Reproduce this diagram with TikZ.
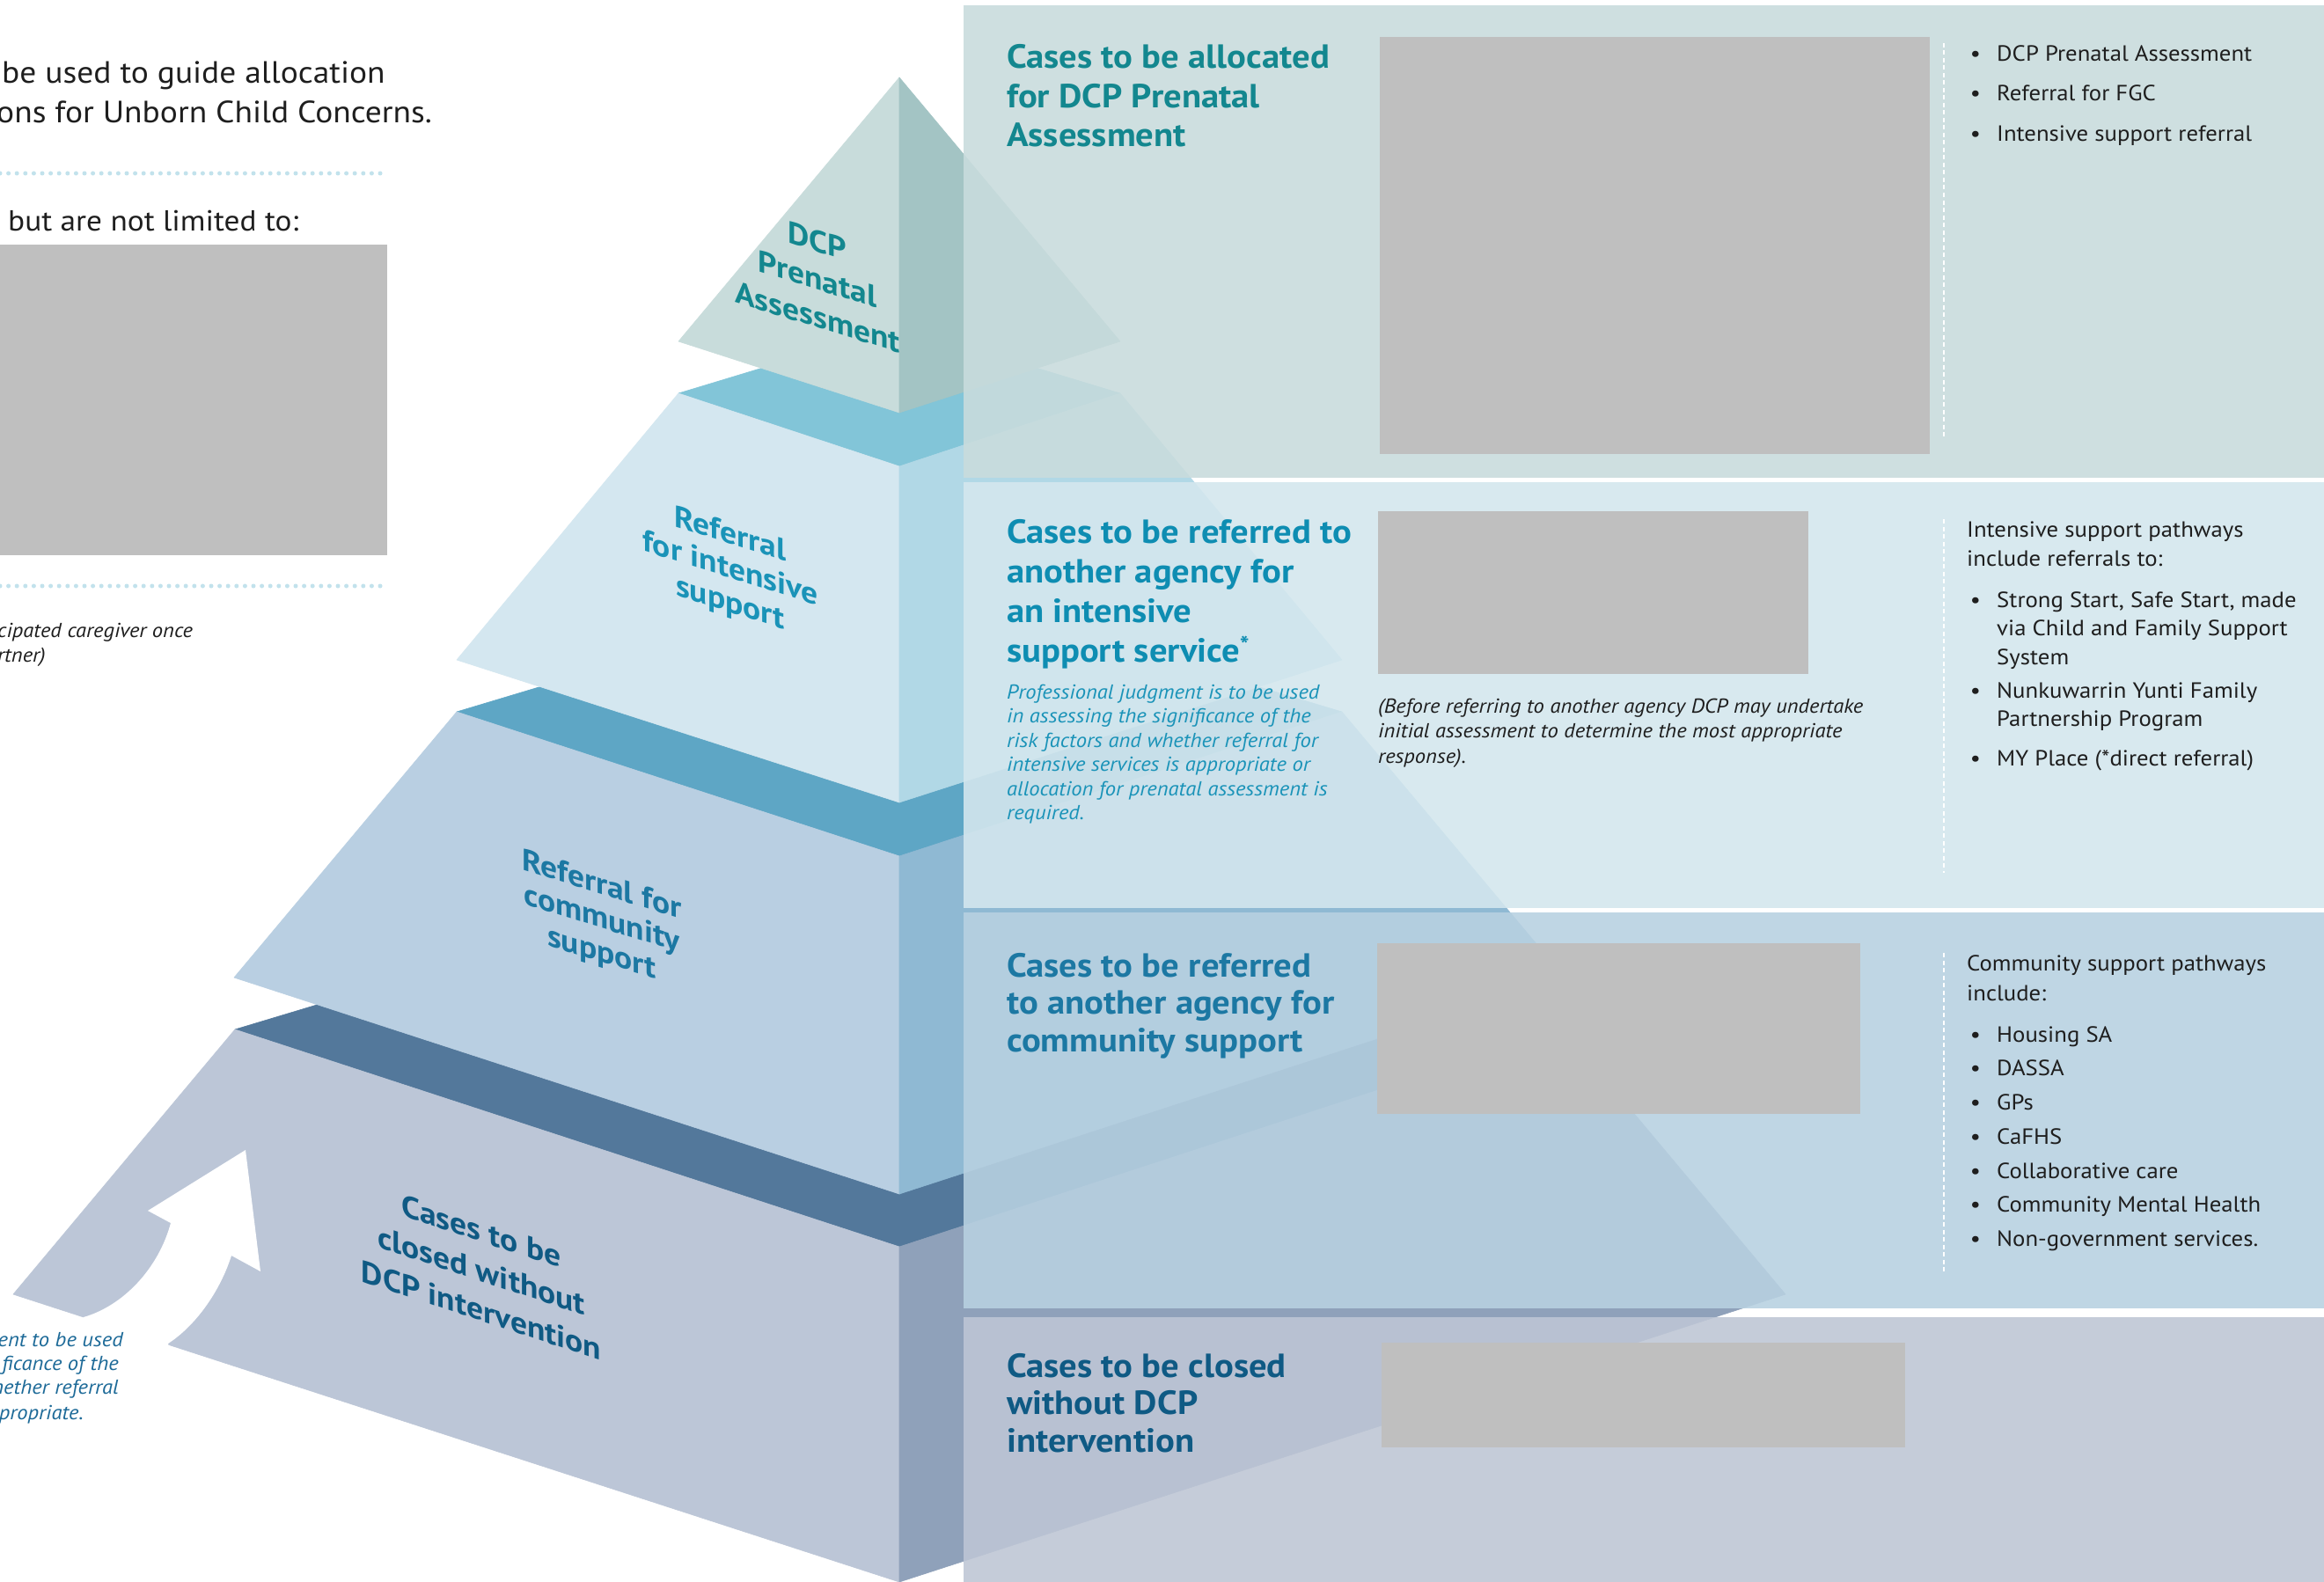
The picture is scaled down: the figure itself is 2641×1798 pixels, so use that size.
\documentclass[tikz,border=0pt]{standalone}
\usepackage{fontspec}
\setmainfont{PT Sans}[FakeStretch=1.07]
% face colours of the stepped pyramid
\definecolor{tAl}{HTML}{C8DCDB}
\definecolor{tAr}{HTML}{A3C4C4}
\definecolor{tBt}{HTML}{82C5D8}
\definecolor{tBl}{HTML}{D4E7F0}
\definecolor{tBr}{HTML}{B1D8E6}
\definecolor{tCt}{HTML}{5EA6C5}
\definecolor{tCl}{HTML}{B9CFE2}
\definecolor{tCr}{HTML}{8FB9D3}
\definecolor{tDt}{HTML}{53789B}
\definecolor{tDl}{HTML}{BCC6D7}
\definecolor{tDr}{HTML}{8FA1BA}
% panel colours
\definecolor{pA}{HTML}{C9DCDD}
\definecolor{pB}{HTML}{D4E7EE}
\definecolor{pC}{HTML}{B8D1E1}
\definecolor{pD}{HTML}{BEC6D5}
\definecolor{greybox}{HTML}{BFBFBF}
\definecolor{ink}{HTML}{1E1E1E}
\definecolor{dotc}{HTML}{C2E2EC}
% text colours
\definecolor{cA}{HTML}{13878F}
\definecolor{cB}{HTML}{0E8DB2}
\definecolor{cC}{HTML}{1C78A3}
\definecolor{cD}{HTML}{0F5A84}
\definecolor{cBi}{HTML}{1A93B8}
\definecolor{cDi}{HTML}{1D6A98}
\begin{document}
\begin{tikzpicture}[x=1pt,y=-1pt,
  pface/.style={fill=#1,draw=#1,line width=0.6pt,line join=round},
  pnl/.style={fill=#1,fill opacity=0.89},
  lbl/.style={font=\bfseries\fontsize{35}{40}\selectfont,align=center,yslant=-0.31,inner sep=0},
  ptitle/.style={font=\bfseries\fontsize{38}{44.5}\selectfont,align=left,anchor=base west,inner sep=0},
  smalltxt/.style={font=\fontsize{25}{33}\selectfont,text=ink,align=left,anchor=base west,inner sep=0},
  ital/.style={font=\itshape\fontsize{23}{27.5}\selectfont,align=left,anchor=base west,inner sep=0},
  bul/.style={font=\fontsize{25}{33}\selectfont,text=ink,anchor=base,inner sep=0},
  head/.style={font=\fontsize{35}{45}\selectfont,text=ink,anchor=base west,inner sep=0},
  vdash/.style={draw=white,line width=1.6pt,dash pattern=on 5pt off 3.5pt},
  dotline/.style={draw=dotc,line width=5pt,line cap=round,dash pattern=on 0pt off 9.6pt}
]
\useasboundingbox (0,0) rectangle (2641,1798);
\fill[white] (0,0) rectangle (2641,1798);

% ---------- pyramid corner points ----------
\coordinate (Apex) at (1022,88);
\coordinate (Al) at (771,388);  \coordinate (Af) at (1022,469); \coordinate (Ar) at (1273,388);
\coordinate (Btl) at (771,447); \coordinate (Btf) at (1022,530); \coordinate (Btr) at (1273,447); \coordinate (Btb) at (1022,371);
\coordinate (Bbl) at (519,750); \coordinate (Bbf) at (1022,912); \coordinate (Bbr) at (1525,750);
\coordinate (Ctl) at (519,809); \coordinate (Ctf) at (1022,973); \coordinate (Ctr) at (1525,809); \coordinate (Ctb) at (1022,658);
\coordinate (Cbl) at (266,1111); \coordinate (Cbf) at (1022,1357); \coordinate (Cbr) at (1778,1111);
\coordinate (Dtl) at (267,1170); \coordinate (Dtf) at (1022,1417); \coordinate (Dtr) at (1777,1170); \coordinate (Dtb) at (1022,943);
\coordinate (Dbl) at (15,1471); \coordinate (Dbf) at (1022,1798); \coordinate (Dbr) at (2029,1471);

% bottom tier
\filldraw[pface=tDt] (Dtl) -- (Dtb) -- (Dtr) -- (Dtf) -- cycle;
\filldraw[pface=tDl] (Dtl) -- (Dtf) -- (Dbf) -- (Dbl) -- cycle;
\filldraw[pface=tDr] (Dtf) -- (Dtr) -- (Dbr) -- (Dbf) -- cycle;
% white arrow cut into the bottom tier
\coordinate (ArT) at (279,1307);
\coordinate (ArHL) at (168,1376);
\coordinate (ArHR) at (296,1445);
\coordinate (ArSLi) at (194,1390);
\coordinate (ArSRi) at (263,1427);
\coordinate (ArSLe) at (95,1497);
\coordinate (ArSRe) at (191,1527);
\coordinate (ArXR) at (193,1534);
\coordinate (ArXL) at (92,1503);
\fill[white] (ArSLe) .. controls (140,1484) and (180,1442) .. (ArSLi) -- (ArHL) -- (ArT) -- (ArHR) -- (ArSRi)
  .. controls (250,1468) and (222,1507) .. (ArSRe) -- (ArXR) -- (ArXL) -- cycle;

% third tier
\filldraw[pface=tCt] (Ctl) -- (Ctb) -- (Ctr) -- (Ctf) -- cycle;
\filldraw[pface=tCl] (Ctl) -- (Ctf) -- (Cbf) -- (Cbl) -- cycle;
\filldraw[pface=tCr] (Ctf) -- (Ctr) -- (Cbr) -- (Cbf) -- cycle;
% second tier
\filldraw[pface=tBt] (Btl) -- (Btb) -- (Btr) -- (Btf) -- cycle;
\filldraw[pface=tBl] (Btl) -- (Btf) -- (Bbf) -- (Bbl) -- cycle;
\filldraw[pface=tBr] (Btf) -- (Btr) -- (Bbr) -- (Bbf) -- cycle;
% top
\filldraw[pface=tAl] (Apex) -- (Af) -- (Al) -- cycle;
\filldraw[pface=tAr] (Apex) -- (Ar) -- (Af) -- cycle;

% tier labels, sheared onto the front faces
\node[lbl,text=cA,font=\bfseries\fontsize{35}{43}\selectfont] (lblA) at (929,317) {DCP\\Prenatal\\Assessment};
\node[lbl,text=cBi,font=\bfseries\fontsize{35}{39}\selectfont] (lblB) at (830,648) {Referral\\for intensive\\support};
\node[lbl,text=cC,font=\bfseries\fontsize{35}{38.5}\selectfont] (lblC) at (684,1046) {Referral for\\community\\support};
\node[lbl,text=cD,yslant=-0.02,font=\bfseries\fontsize{35}{45}\selectfont] (lblD) at (547,1444) {Cases to be\\closed without\\DCP intervention};

% ---------- left column ----------
\node[head] (hdA) at (2,95) {be used to guide allocation};
\node[head] (hdB) at (-4,140) {ons for Unborn Child Concerns.};
\draw[dotline] (0,197) -- (432,197);
\node[head,font=\fontsize{33}{45}\selectfont] (hdC) at (9,262) {but are not limited to:};
\fill[greybox] (0,278) rectangle (440,631);
\draw[dotline] (0,666) -- (432,666);
\node[ital,text=ink] (noteA) at (-3,724) {cipated caregiver once};
\node[ital,text=ink] (noteB) at (-3,752) {rtner)};
\node[ital,text=cDi,anchor=base east] (jA) at (140,1530) {ent to be used};
\node[ital,text=cDi,anchor=base east] (jB) at (135,1557) {ficance of the};
\node[ital,text=cDi,anchor=base east] (jC) at (135,1584) {hether referral};
\node[ital,text=cDi,anchor=base east] (jD) at (95,1613) {propriate.};

% ---------- panels ----------
\fill[pnl=pA] (1095,6) rectangle (2641,543);
\fill[pnl=pB] (1095,548) rectangle (2641,1032);
\fill[pnl=pC] (1095,1037) rectangle (2641,1487);
\fill[pnl=pD] (1095,1497) rectangle (2641,1798);

% panel 1 (multi-line nodes sit on the baseline of their last line)
\node[ptitle,text=cA] (tA) at (1144,167) {Cases to be allocated\\for DCP Prenatal\\Assessment};
\fill[greybox] (1568,42) rectangle (2193,516);
\draw[vdash] (2209,49) -- (2209,498);
\node[bul] (bA1) at (2245,70) {\textbullet};
\node[smalltxt] (xA1) at (2269,70) {DCP Prenatal Assessment};
\node[bul] (bA2) at (2245,115) {\textbullet};
\node[smalltxt] (xA2) at (2269,115) {Referral for FGC};
\node[bul] (bA3) at (2245,161) {\textbullet};
\node[smalltxt] (xA3) at (2269,161) {Intensive support referral};

% panel 2
\node[ptitle,text=cB,font=\bfseries\fontsize{38}{45}\selectfont] (tB) at (1144,752) {Cases to be referred to\\another agency for\\an intensive\\support service\textsuperscript{*}};
\node[ital,text=cBi] (iB) at (1144,931.5) {Professional judgment is to be used\\in assessing the significance of the\\risk factors and whether referral for\\intensive services is appropriate or\\allocation for prenatal assessment is\\required.};
\fill[greybox] (1566,581) rectangle (2055,766);
\node[ital,text=ink,font=\itshape\fontsize{23}{28.5}\selectfont] (mB) at (1566,867) {(Before referring to another agency DCP may undertake\\initial assessment to determine the most appropriate\\response).};
\draw[vdash] (2209,590) -- (2209,992);
\node[smalltxt] (hB) at (2235,643) {Intensive support pathways\\include referrals to:};
\node[bul] (bB1) at (2245,690) {\textbullet};
\node[smalltxt,font=\fontsize{25}{32.5}\selectfont] (xB1) at (2269,755) {Strong Start, Safe Start, made\\via Child and Family Support\\System};
\node[bul] (bB2) at (2245,793) {\textbullet};
\node[smalltxt,font=\fontsize{25}{32.5}\selectfont] (xB2) at (2269,825.5) {Nunkuwarrin Yunti Family\\Partnership Program};
\node[bul] (bB3) at (2245,870) {\textbullet};
\node[smalltxt] (xB3) at (2269,870) {MY Place (*direct referral)};

% panel 3
\node[ptitle,text=cC,font=\bfseries\fontsize{38}{42.5}\selectfont] (tC) at (1144,1195) {Cases to be referred\\to another agency for\\community support};
\fill[greybox] (1565,1072) rectangle (2114,1266);
\draw[vdash] (2209,1083) -- (2209,1447);
\node[smalltxt,font=\fontsize{25}{34}\selectfont] (hC) at (2235,1137) {Community support pathways\\include:};
\node[bul] (bC1) at (2245,1184) {\textbullet};
\node[smalltxt] (xC1) at (2269,1184) {Housing SA};
\node[bul] (bC2) at (2245,1222) {\textbullet};
\node[smalltxt] (xC2) at (2269,1222) {DASSA};
\node[bul] (bC3) at (2245,1261) {\textbullet};
\node[smalltxt] (xC3) at (2269,1261) {GPs};
\node[bul] (bC4) at (2245,1300) {\textbullet};
\node[smalltxt] (xC4) at (2269,1300) {CaFHS};
\node[bul] (bC5) at (2245,1339) {\textbullet};
\node[smalltxt] (xC5) at (2269,1339) {Collaborative care};
\node[bul] (bC6) at (2245,1377) {\textbullet};
\node[smalltxt] (xC6) at (2269,1377) {Community Mental Health};
\node[bul] (bC7) at (2245,1416) {\textbullet};
\node[smalltxt] (xC7) at (2269,1416) {Non-government services.};

% panel 4
\node[ptitle,text=cD,font=\bfseries\fontsize{38}{42.5}\selectfont] (tD) at (1144,1650) {Cases to be closed\\without DCP\\intervention};
\fill[greybox] (1570,1526) rectangle (2165,1645);
\end{tikzpicture}
\end{document}
